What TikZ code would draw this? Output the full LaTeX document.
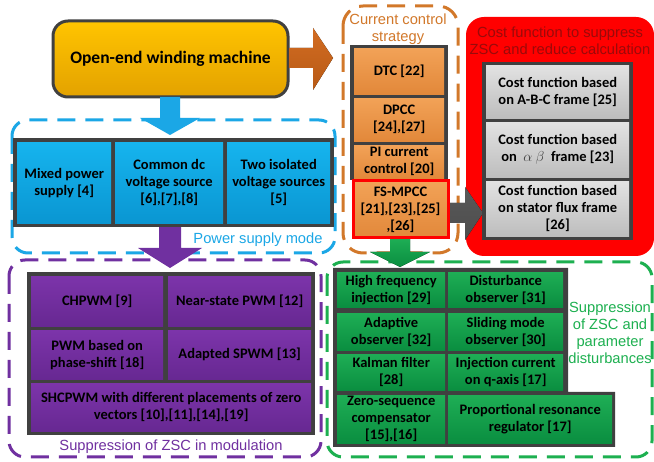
\documentclass[tikz,border=0pt]{standalone}
\usepackage{fontspec}
\setmainfont{Carlito}
\newfontfamily\lblfont{Liberation Sans}
\definecolor{dkgray}{HTML}{404040}
\definecolor{bluel}{HTML}{1BA7E6}
\definecolor{bluet}{HTML}{16B4EE}
\definecolor{blueb}{HTML}{0A96D2}
\definecolor{purl}{HTML}{7030A0}
\definecolor{purt}{HTML}{7C34AA}
\definecolor{purb}{HTML}{672892}
\definecolor{orgl}{HTML}{D2782A}
\definecolor{orgt}{HTML}{F2A257}
\definecolor{orgb}{HTML}{E2883A}
\definecolor{arrt}{HTML}{D26C22}
\definecolor{arrb}{HTML}{B85A15}
\definecolor{grnl}{HTML}{1DB050}
\definecolor{grnt}{HTML}{1EAE55}
\definecolor{grnb}{HTML}{0A8E40}
\definecolor{gryt}{HTML}{E2E2E2}
\definecolor{gryb}{HTML}{BDBDBD}
\definecolor{ylwt}{HTML}{FFC400}
\definecolor{ylwb}{HTML}{E3A200}
\definecolor{costtxt}{HTML}{9A0A0A}
\begin{document}
\begin{tikzpicture}[x=1pt,y=-1pt,
  cell/.style={anchor=north west, inner sep=0pt, align=center,
    font=\bfseries\fontsize{14.5}{17}\selectfont, text=black},
  bluecell/.style={cell, top color=bluet, bottom color=blueb},
  purcell/.style={cell, top color=purt, bottom color=purb},
  orgcell/.style={cell, top color=orgt, bottom color=orgb},
  grycell/.style={cell, top color=gryt, bottom color=gryb},
  grncell/.style={cell, top color=grnt, bottom color=grnb},
  frame/.style={line width=3pt, dash pattern=on 18pt off 10pt, rounded corners=16pt},
  lbl/.style={align=center, font=\lblfont\fontsize{14.7}{17}\selectfont, inner sep=0pt}]
\useasboundingbox (0,0) rectangle (654,462);
\fill[white] (0,0) rectangle (654,462);

% red cost region
\fill[red, rounded corners=18pt] (466,17) rectangle (654,256);
\node[lbl, text=costtxt] (costlbl) at (560,41) {Cost function to suppress\\ZSC and reduce calculation};

% dashed containers
\draw[frame, draw=bluel] (12,120) rectangle (335,253);
\draw[frame, draw=purl] (9,260) rectangle (321,457);
\draw[frame, draw=orgl, rounded corners=20pt] (343,6) rectangle (458,253);
\draw[frame, draw=grnl] (327,262) rectangle (652,457);

% title
\node[draw=dkgray, line width=3pt, rounded corners=15pt, top color=ylwt, bottom color=ylwb,
  minimum width=235pt, minimum height=76pt, anchor=north west,
  font=\bfseries\fontsize{17.5}{21}\selectfont] (title) at (51.5,19.5) {Open-end winding machine};

% block arrows
\fill[top color=arrt, bottom color=arrb] (title.east |- 0,48) -- (313,48) -- (313,28) -- (333,58) -- (313,90) -- (313,68) -- (title.east |- 0,68) -- cycle;
\fill[bluel] (160,97) -- (180,97) -- (180,118) -- (200,118) -- (170,135) -- (140,118) -- (160,118) -- cycle;
\fill[purl] (159,227) -- (181,227) -- (181,248) -- (202,248) -- (170,268) -- (138,248) -- (159,248) -- cycle;
\fill[top color=grnt, bottom color=grnb] (390,238) -- (410,238) -- (410,252) -- (430,252) -- (400,267) -- (370,252) -- (390,252) -- cycle;
\fill[top color=gray!70!black, bottom color=gray!60!black] (448,203) -- (465,203) -- (465,187) -- (483,213) -- (465,240) -- (465,223) -- (448,223) -- cycle;

% power supply group
\fill[dkgray] (13,138) rectangle (334,227);
\node[bluecell, minimum width=94pt, minimum height=81pt] (b1) at (17,142) {Mixed power\\supply [4]};
\node[bluecell, minimum width=108pt, minimum height=81pt] (b2) at (115,142) {Common dc\\voltage source\\{[6],[7],[8]}};
\node[bluecell, minimum width=103pt, minimum height=81pt] (b3) at (227,142) {Two isolated\\voltage sources\\{[5]}};
\node[lbl, text=bluel] (pwrlbl) at (258,240) {Power supply mode};

% modulation group
\fill[dkgray] (27,272) rectangle (315,435);
\node[purcell, minimum width=132pt, minimum height=50pt] (p1) at (31,276) {CHPWM [9]};
\node[purcell, minimum width=143pt, minimum height=50pt] (p2) at (168,276) {Near-state PWM [12]};
\node[purcell, minimum width=132pt, minimum height=49pt] (p3) at (31,330) {PWM based on\\phase-shift [18]};
\node[purcell, minimum width=143pt, minimum height=49pt] (p4) at (168,330) {Adapted SPWM [13]};
\node[purcell, minimum width=280pt, minimum height=48pt] (p5) at (31,383) {SHCPWM with different placements of zero\\vectors [10],[11],[14],[19]};
\node[lbl, text=purl] (modlbl) at (171,447) {Suppression of ZSC in modulation};

% current control group
\node[lbl, text=orgl] (curlbl) at (398,29) {Current control\\strategy};
\fill[dkgray] (350,45) rectangle (448,180);
\node[orgcell, minimum width=90pt, minimum height=46pt] (o1) at (354,48) {DTC [22]};
\node[orgcell, minimum width=90pt, minimum height=43pt] (o2) at (354,98) {DPCC\\{[24],[27]}};
\node[orgcell, minimum width=90pt, minimum height=33pt] (o3) at (354,145) {PI current\\control [20]};
\node[orgcell, draw=red, line width=3pt, minimum width=95pt, minimum height=57pt] (o4) at (351.5,179.5) {FS-MPCC\\{[21],[23],[25]}\\,[26]};

% cost function group
\fill[dkgray] (482,62) rectangle (633,240);
\node[grycell, minimum width=143pt, minimum height=53pt] (g1) at (486,65) {Cost function based\\on A-B-C frame [25]};
\node[grycell, minimum width=143pt, minimum height=55pt] (g2) at (486,122) {Cost function based\\on~~{\color{dkgray}$\alpha$~$\beta$}~~frame [23]};
\node[grycell, minimum width=143pt, minimum height=55pt] (g3) at (486,181) {Cost function based\\on stator flux frame\\{[26]}};

% disturbance group
\fill[dkgray] (333,268) -- (568,268) -- (568,392) -- (615,392) -- (615,447) -- (333,447) -- cycle;
\node[grncell, minimum width=108pt, minimum height=35pt] (e1) at (337,272) {High frequency\\injection [29]};
\node[grncell, minimum width=115pt, minimum height=35pt] (e2) at (448,272) {Disturbance\\observer [31]};
\node[grncell, minimum width=108pt, minimum height=37pt] (e3) at (337,313) {Adaptive\\observer [32]};
\node[grncell, minimum width=115pt, minimum height=37pt] (e4) at (448,313) {Sliding mode\\observer [30]};
\node[grncell, minimum width=108pt, minimum height=36pt] (e5) at (337,354) {Kalman filter\\{[28]}};
\node[grncell, minimum width=115pt, minimum height=36pt] (e6) at (448,354) {Injection current\\on q-axis [17]};
\node[grncell, minimum width=108pt, minimum height=48pt] (e7) at (337,395) {Zero-sequence\\compensator\\{[15],[16]}};
\node[grncell, minimum width=164pt, minimum height=48pt] (e8) at (448,395) {Proportional resonance\\regulator [17]};
\node[lbl, text=grnl] (grnlbl) at (610,333) {Suppression\\of ZSC and\\parameter\\disturbances};
\end{tikzpicture}
\end{document}
